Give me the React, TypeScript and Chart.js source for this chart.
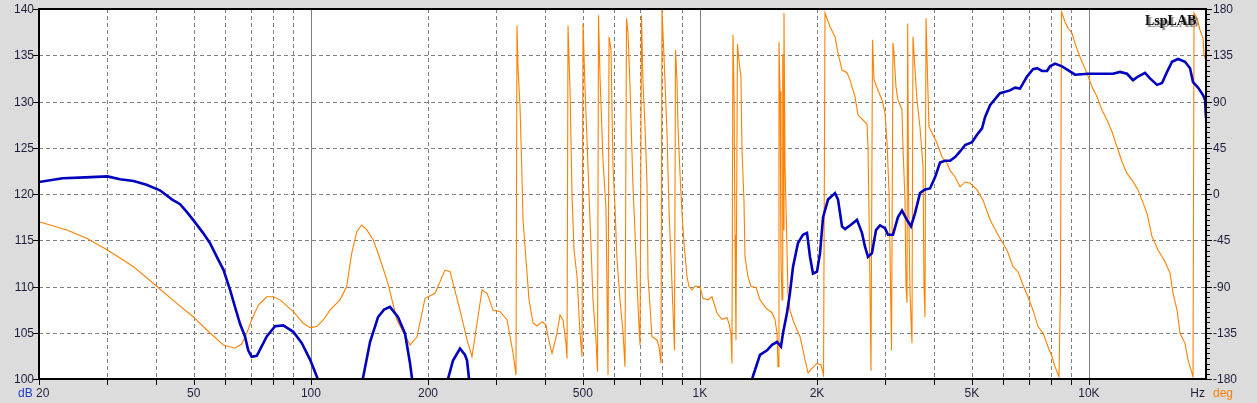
import React, { useEffect, useRef } from 'react';
import { Chart, registerables } from 'chart.js';

Chart.register(...registerables);

// SPL curve: [frequency Hz, dB]
const splCurve: [number, number][] = [
  [20, 121.3], [23, 121.7], [26.3, 121.8], [30, 121.9], [32.3, 121.6], [35, 121.4], [37.8, 121.0],
  [40.9, 120.4], [44, 119.4], [46.1, 118.9], [47.9, 118.1], [49.8, 117.2], [52.8, 115.8], [55, 114.7],
  [57.3, 113.2], [59.6, 111.8], [62, 109.6], [63.8, 107.8], [65.7, 106.0], [67.7, 104.6], [69, 103.1],
  [70.4, 102.4], [72.6, 102.5], [77, 104.6], [80.9, 105.7],
  [84.9, 105.8], [90.1, 105.1], [94.7, 103.9], [99.5, 102.1], [103.5, 100.3], [112, 96], [122.4, 94],
  [129.9, 96], [136.4, 100.3], [141.9, 104], [148.8, 106.7], [154.2, 107.5], [159.7, 107.8], [167.4, 106.7],
  [174.6, 104.9], [179.8, 101.7], [182, 100], [190.8, 96], [214.7, 96], [225.1, 100], [231.9, 102],
  [241.7, 103.3], [249, 102.6], [252, 102], [255, 100], [264.1, 96], [306.4, 94], [553.6, 92], [1000, 93],
  [1306, 97], [1369, 100.3], [1427, 102.6], [1488, 103.1], [1532, 103.7], [1578, 104.0], [1616, 103.5],
  [1636, 105.0], [1674, 107.1], [1704, 109.3], [1735, 112.1], [1787, 114.7], [1841, 115.6], [1885, 115.8],
  [1919, 113.2], [1953, 111.4], [2000, 111.6], [2036, 113.6], [2073, 117.5], [2135, 119.4], [2225, 120.1],
  [2265, 119.4], [2319, 116.5], [2361, 116.2], [2431, 116.6], [2534, 117.2], [2610, 115.8], [2657, 114.3],
  [2705, 113.2], [2769, 113.6], [2836, 116.1], [2904, 116.6], [2991, 116.3], [3045, 115.6], [3136, 115.6],
  [3230, 117.5], [3307, 118.2], [3407, 117.2], [3488, 116.5], [3572, 117.9], [3680, 120.1], [3790, 120.5],
  [3904, 120.6], [4022, 121.8], [4143, 123.4], [4267, 123.6], [4396, 123.6], [4529, 124.0], [4665, 124.6],
  [4806, 125.3], [5006, 125.6], [5157, 126.4], [5312, 127.1], [5407, 128.3], [5570, 129.6], [5908, 130.9],
  [6268, 131.2], [6457, 131.5], [6651, 131.4], [6933, 132.7], [7184, 133.5], [7356, 133.6], [7577, 133.3],
  [7805, 133.3], [7943, 133.8], [8182, 134.1], [8528, 133.8], [8837, 133.4], [9211, 132.9], [9947, 133.0],
  [10679, 133.0], [11533, 133.0], [12021, 133.2], [12530, 133.0], [12983, 132.3], [13374, 132.7],
  [13940, 133.1], [14359, 132.5], [14967, 131.8], [15418, 132.0], [15881, 133.2], [16358, 134.3],
  [16949, 134.6], [17665, 134.3], [18196, 133.6], [18522, 132.1], [19079, 131.5], [19651, 130.7],
  [19883, 130.2], [20000, 128.2],
];

// Phase curve: [frequency Hz, degrees]
const phaseCurve: [number, number][] = [
  [20, -27], [23.6, -35], [26.5, -43.1], [30, -54.5], [35, -70.7], [40.2, -90], [45.2, -106.4], [49.8, -119.4],
  [54, -132.3], [59.6, -147], [63.8, -150],
  [66.4, -146], [68.4, -135.6], [70.4, -122.6], [73.3, -108], [77, -100], [80.1, -100], [83.3, -103],
  [90.1, -114.5], [95.6, -125.8], [99.5, -130], [103.5, -129], [107.6, -122.6], [112, -113], [118.8, -103],
  [123.6, -90], [127.3, -57.7], [131.2, -36.6], [135.1, -30.2], [139.2, -35], [144.7, -44.8], [150.5, -63],
  [157.8, -87], [166.4, -122.6], [179.8, -147], [187.4, -139], [196.5, -101.5], [208.5, -96.6], [221.2, -74],
  [227.9, -75.6], [241.7, -113], [252, -142], [259.5, -158.3], [268.9, -119.4], [275.4, -93.4], [283.7, -96.6],
  [293.9, -113], [306.4, -114.5], [319.3, -122.6], [330.8, -154.7], [336.7, -176],
  [338.7, 164], [340.7, 124], [344.8, 85], [347.8, 36], [351, -25], [355.1, -51], [359.4, -77], [363.7, -103],
  [372.4, -125.5], [381.3, -128.4], [392.8, -124.2], [402.2, -127.5], [407, -138.8], [416.7, -155],
  [429.2, -135.3], [436.9, -117.7], [444.7, -122.6], [452.7, -145.3], [455.4, -160],
  [458.1, 164], [463.6, 101], [469.1, -1], [474.7, -54.5], [483.2, -80.5], [491.8, -135.3], [497.7, -158.3],
  [500.6, 166], [506.6, 104.4], [515.6, 26.6], [524.9, -51.3], [531.1, -103], [540.6, -142], [545.5, -173],
  [548.7, 174], [553.6, 114], [563.6, 33], [573.7, -15.6], [577.1, -96], [580.5, -176],
  [584, 153], [590.9, 140], [597.9, 26.6], [605, -12.4], [612.2, -64], [623.2, -103], [634.4, -135], [641.9, -168],
  [647.6, 171], [653.4, 156.6], [661.2, 104.4], [673, 7], [681.1, -38], [689.2, -86.6], [695.3, -119.4], [701.5, -147],
  [707.8, 174], [714.1, 107.7], [722.6, 65.5], [731.2, 10.4], [735.6, -80.5], [744.3, -109.7], [753.2, -138.8],
  [775.8, -142], [785, -148.6], [794.3, -164.8],
  [799.1, 179], [808.6, 133.6], [823.1, 59], [832.9, -15.6], [842.8, -64], [852.8, -113], [860.4, -152],
  [865.5, 140], [873.2, 111], [878.4, 65.5], [888.9, 20], [899.5, -18.8], [910.2, -48], [926.5, -80.5],
  [937.5, -90], [954.2, -93.4], [971.3, -89.5], [1000, -90], [1018.5, -101.5], [1049, -103], [1074, -100],
  [1107, -116], [1140, -122], [1174, -120.4], [1188, -126], [1202, -136], [1209, -165],
  [1216, 155], [1224, 98], [1231, -40], [1238, -142], [1249, 146], [1260, 130], [1275, 114], [1283, 43],
  [1298, -6], [1306, -61], [1329, -80.5], [1353, -90], [1394, -91], [1427, -103], [1479, -111], [1532, -115.5],
  [1560, -122.6], [1578, -135], [1588, -168], [1597, 148], [1607, 100], [1616, -61], [1626, -103], [1633, 136],
  [1639, -35], [1645, 176], [1655, 27], [1674, -51], [1684, -96.6], [1704, -113], [1735, -122.6], [1777, -132.3],
  [1809, -138.8], [1841, -151.8], [1863, -161.5], [1897, -174], [1942, -169.6], [2000, -164.8], [2048, -166.4],
  [2079, -176],
  [2097, 176], [2160, 162.8], [2225, 153], [2265, 137], [2319, 120.6], [2389, 118], [2431, 111], [2504, 94.7],
  [2549, 77], [2626, 72], [2689, 68], [2705, 46], [2729, -52], [2753, -172], [2778, 150], [2803, 111],
  [2870, 101], [2939, 91.5], [2991, 79], [3027, 50], [3063, 3], [3082, -58], [3109, -152], [3136, 147],
  [3155, 137], [3192, 104], [3230, 91.5], [3307, 82], [3327, 46], [3367, -6], [3387, -90], [3407, -106],
  [3421, 166], [3437, 7], [3468, -96], [3509, -145], [3530, 153], [3551, 137], [3614, 91.5], [3680, 65],
  [3746, 26], [3768, -90], [3790, -120], [3813, 171], [3858, 98], [3881, 65], [3951, 59.4], [4069, 49.6],
  [4192, 36], [4318, 30], [4396, 23], [4529, 16.5], [4665, 7], [4806, 11.7], [4947, 10.7], [5157, 4],
  [5344, -6], [5570, -25], [5804, -38], [5908, -43], [6158, -54.5], [6381, -70.7], [6573, -75.6], [6770, -88.5],
  [6974, -100], [7184, -113], [7400, -129], [7622, -135.3], [7851, -148.6], [8038, -158.3], [8182, -168],
  [8378, -177.7], [8452, -90],
  [8502, 177.4], [8681, 167.6], [8837, 161.2], [9048, 156.4], [9211, 146.6], [9481, 133.6], [9888, 117.4],
  [10185, 104.4], [10491, 94.7], [10806, 81.7], [11130, 72], [11465, 60.6], [11809, 46], [12164, 31.4],
  [12530, 20], [12983, 12], [13374, 4], [13694, -6], [14106, -18.8], [14529, -41.5], [15056, -54.5],
  [15693, -66], [16165, -77], [16455, -96.6], [16849, -113], [17151, -135.6], [17665, -145.3], [17982, -161.5],
  [18522, -177.7],
  [18633, 176], [18967, 171], [19306, 159.6], [19651, 151.5], [19767, 135], [20000, 130],
];

const xLabelValues = [20, 50, 100, 200, 500, 1000, 2000, 5000, 10000];
const xLabelTexts = ['20', '50', '100', '200', '500', '1K', '2K', '5K', '10K'];
const xGridValues = [
  30, 40, 50, 60, 70, 80, 90, 100,
  200, 300, 400, 500, 600, 700, 800, 900, 1000,
  2000, 3000, 4000, 5000, 6000, 7000, 8000, 9000, 10000,
];
const xDecadeValues = [100, 1000, 10000];
const dbTickValues = [100, 105, 110, 115, 120, 125, 130, 135, 140];
const degTickValues = [-180, -135, -90, -45, 0, 45, 90, 135, 180];

const BG = '#dcdcdc';
const TEXT = '#1e1e3c';
const BLUE = '#0000be';
const ORANGE = '#ff8000';
const FONT = '12px "Liberation Sans", Arial, sans-serif';

const framePlugin = {
  id: 'lspFrame',
  beforeDraw(chart: any) {
    const { ctx, chartArea: a } = chart;
    const xs = chart.scales.x;
    const ys = chart.scales.y;
    ctx.save();
    ctx.fillStyle = BG;
    ctx.fillRect(0, 0, chart.width, chart.height);
    ctx.fillStyle = '#ffffff';
    ctx.fillRect(a.left, a.top, a.right - a.left, a.bottom - a.top);
    ctx.lineWidth = 1;
    ctx.strokeStyle = '#808080';
    xGridValues.forEach((v) => {
      const px = Math.round(xs.getPixelForValue(v)) + 0.5;
      ctx.setLineDash(xDecadeValues.includes(v) ? [] : [4, 3]);
      ctx.beginPath();
      ctx.moveTo(px, a.top);
      ctx.lineTo(px, a.bottom);
      ctx.stroke();
    });
    ctx.setLineDash([4, 3]);
    dbTickValues.slice(1, -1).forEach((v) => {
      const py = Math.round(ys.getPixelForValue(v)) + 0.5;
      ctx.beginPath();
      ctx.moveTo(a.left, py);
      ctx.lineTo(a.right, py);
      ctx.stroke();
    });
    ctx.restore();
  },
  afterDraw(chart: any) {
    const { ctx, chartArea: a } = chart;
    const xs = chart.scales.x;
    const ys = chart.scales.y;
    const y2 = chart.scales.y2;
    ctx.save();
    ctx.setLineDash([]);
    ctx.strokeStyle = '#000';
    ctx.lineWidth = 2;
    ctx.strokeRect(a.left, a.top, a.right - a.left, a.bottom - a.top);
    ctx.lineWidth = 1;
    ctx.beginPath();
    [20, ...xGridValues].forEach((v) => {
      const px = Math.round(xs.getPixelForValue(v)) + 0.5;
      ctx.moveTo(px, a.bottom);
      ctx.lineTo(px, a.bottom + 6);
    });
    dbTickValues.forEach((v) => {
      const py = Math.round(ys.getPixelForValue(v)) + 0.5;
      ctx.moveTo(a.left - 6, py);
      ctx.lineTo(a.left, py);
    });
    for (let d = -180; d <= 180; d += 5) {
      const py = Math.round(y2.getPixelForValue(d)) + 0.5;
      ctx.moveTo(a.right, py);
      ctx.lineTo(a.right + (d % 45 === 0 ? 6 : 4), py);
    }
    ctx.stroke();
    ctx.font = FONT;
    ctx.fillStyle = TEXT;
    ctx.textBaseline = 'alphabetic';
    ctx.textAlign = 'right';
    dbTickValues.forEach((v) => {
      ctx.fillText(String(v), a.left - 5, ys.getPixelForValue(v) + 4);
    });
    ctx.textAlign = 'left';
    degTickValues.forEach((v) => {
      ctx.fillText(String(v), a.right + 7, y2.getPixelForValue(v) + 4);
    });
    xLabelValues.forEach((v, i) => {
      const px = xs.getPixelForValue(v);
      if (i === 0) {
        ctx.textAlign = 'left';
        ctx.fillText(xLabelTexts[i], px - 3, 397);
      } else {
        ctx.textAlign = 'center';
        ctx.fillText(xLabelTexts[i], px, 397);
      }
    });
    ctx.textAlign = 'right';
    ctx.fillText('Hz', a.right - 1, 397);
    ctx.textAlign = 'left';
    ctx.fillStyle = '#1f3fc8';
    ctx.fillText('dB', 18, 397);
    ctx.fillStyle = ORANGE;
    ctx.fillText('deg', a.right + 7, 397);
    ctx.font = 'bold 14px "Liberation Serif", "Times New Roman", serif';
    ctx.fillStyle = '#111';
    ctx.shadowColor = 'rgba(110,110,110,0.85)';
    ctx.shadowOffsetX = 2;
    ctx.shadowOffsetY = 2;
    ctx.shadowBlur = 1;
    ctx.textAlign = 'left';
    ctx.fillText('LspLAB', 1145, 25);
    ctx.restore();
  },
};

export default function App() {
  const ref = useRef<HTMLCanvasElement | null>(null);
  useEffect(() => {
    if (!ref.current) return;
    const chart = new Chart(ref.current, {
      type: 'line',
      data: {
        datasets: [
          {
            label: 'SPL',
            data: splCurve.map(([x, y]) => ({ x, y })),
            yAxisID: 'y',
            borderColor: BLUE,
            borderWidth: 2.6,
            pointRadius: 0,
            tension: 0,
            fill: false,
            clip: 0,
          },
          {
            label: 'Phase',
            data: phaseCurve.map(([x, y]) => ({ x, y })),
            yAxisID: 'y2',
            borderColor: ORANGE,
            borderWidth: 1.1,
            pointRadius: 0,
            tension: 0,
            fill: false,
            clip: 0,
          },
        ],
      },
      options: {
        animation: false,
        responsive: false,
        events: [],
        layout: { padding: { top: 9, left: 0, right: 0, bottom: 0 } },
        plugins: { legend: { display: false }, tooltip: { enabled: false } },
        scales: {
          x: {
            type: 'logarithmic',
            position: 'bottom',
            min: 20,
            max: 20000,
            ticks: { display: false },
            grid: { display: false },
            border: { display: false },
            afterFit: (s: any) => { s.height = 24; },
          },
          y: {
            type: 'linear',
            position: 'left',
            min: 100,
            max: 140,
            ticks: { display: false },
            grid: { display: false },
            border: { display: false },
            afterFit: (s: any) => { s.width = 39; },
          },
          y2: {
            type: 'linear',
            position: 'right',
            min: -180,
            max: 180,
            ticks: { display: false },
            grid: { display: false },
            border: { display: false },
            afterFit: (s: any) => { s.width = 51; },
          },
        },
      } as any,
      plugins: [framePlugin],
    });
    return () => chart.destroy();
  }, []);
  return (
    <div style={{ position: 'absolute', left: 0, top: 0, width: 1257, height: 403, background: BG }}>
      <canvas ref={ref} width={1257} height={403} style={{ display: 'block' }} />
    </div>
  );
}
